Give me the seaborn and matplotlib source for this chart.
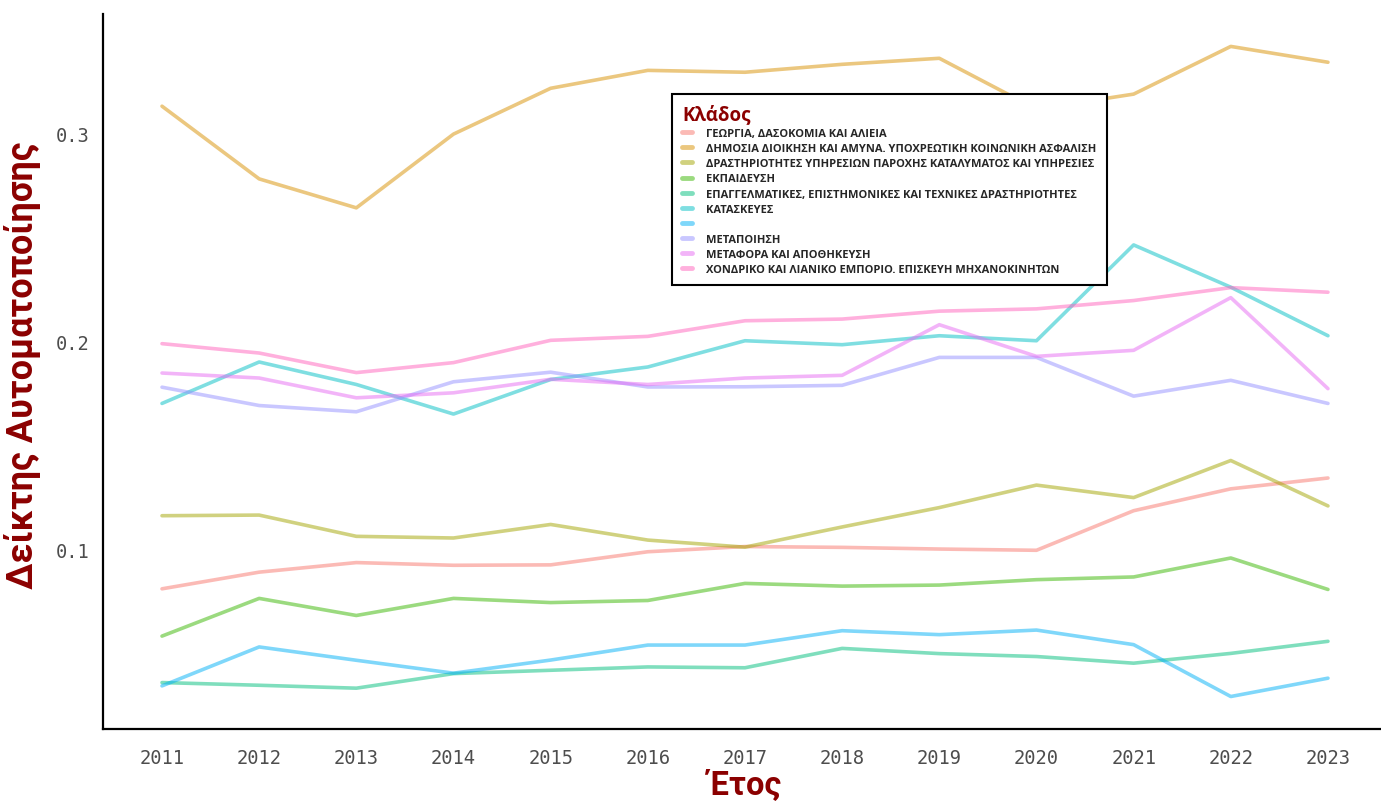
import numpy as np
import pandas as pd
import seaborn as sns
import matplotlib
matplotlib.use("Agg")
import matplotlib.pyplot as plt

years = list(range(2011, 2024))

sectors = [
    "ΓΕΩΡΓΙΑ, ΔΑΣΟΚΟΜΙΑ ΚΑΙ ΑΛΙΕΙΑ",
    "ΔΗΜΟΣΙΑ ΔΙΟΙΚΗΣΗ ΚΑΙ ΑΜΥΝΑ. ΥΠΟΧΡΕΩΤΙΚΗ ΚΟΙΝΩΝΙΚΗ ΑΣΦΑΛΙΣΗ",
    "ΔΡΑΣΤΗΡΙΟΤΗΤΕΣ ΥΠΗΡΕΣΙΩΝ ΠΑΡΟΧΗΣ ΚΑΤΑΛΥΜΑΤΟΣ ΚΑΙ ΥΠΗΡΕΣΙΕΣ",
    "ΕΚΠΑΙΔΕΥΣΗ",
    "ΕΠΑΓΓΕΛΜΑΤΙΚΕΣ, ΕΠΙΣΤΗΜΟΝΙΚΕΣ ΚΑΙ ΤΕΧΝΙΚΕΣ ΔΡΑΣΤΗΡΙΟΤΗΤΕΣ",
    "ΚΑΤΑΣΚΕΥΕΣ",
    " ",
    "ΜΕΤΑΠΟΙΗΣΗ",
    "ΜΕΤΑΦΟΡΑ ΚΑΙ ΑΠΟΘΗΚΕΥΣΗ",
    "ΧΟΝΔΡΙΚΟ ΚΑΙ ΛΙΑΝΙΚΟ ΕΜΠΟΡΙΟ. ΕΠΙΣΚΕΥΗ ΜΗΧΑΝΟΚΙΝΗΤΩΝ",
]

# values, one list per sector
georgia = [0.0812, 0.0892, 0.0938, 0.0925, 0.0927, 0.0990, 0.1015, 0.1011, 0.1003, 0.0997, 0.1187, 0.1292, 0.1344]
dimosia = [0.3129, 0.2780, 0.2641, 0.2995, 0.3215, 0.3301, 0.3292, 0.3330, 0.3359, 0.3115, 0.3187, 0.3416, 0.3340]
katalyma = [0.1163, 0.1166, 0.1064, 0.1056, 0.1121, 0.1046, 0.1012, 0.1109, 0.1202, 0.1310, 0.1250, 0.1428, 0.1210]
ekpaideusi = [0.0585, 0.0766, 0.0684, 0.0766, 0.0746, 0.0756, 0.0838, 0.0825, 0.0830, 0.0856, 0.0869, 0.0960, 0.0809]
epaggelm = [0.0362, 0.0349, 0.0335, 0.0405, 0.0421, 0.0437, 0.0433, 0.0526, 0.0501, 0.0487, 0.0455, 0.0502, 0.0560]
kataskeues = [0.1702, 0.1901, 0.1793, 0.1651, 0.1817, 0.1877, 0.2003, 0.1984, 0.2027, 0.2003, 0.2463, 0.2260, 0.2027]
unnamed = [0.0346, 0.0533, 0.0469, 0.0407, 0.0470, 0.0542, 0.0542, 0.0611, 0.0592, 0.0614, 0.0544, 0.0295, 0.0383]
metapoiisi = [0.1780, 0.1692, 0.1662, 0.1806, 0.1852, 0.1781, 0.1782, 0.1789, 0.1923, 0.1923, 0.1737, 0.1813, 0.1702]
metafora = [0.1848, 0.1824, 0.1729, 0.1753, 0.1818, 0.1793, 0.1824, 0.1837, 0.2080, 0.1928, 0.1957, 0.2210, 0.1773]
xondriko = [0.1989, 0.1944, 0.1850, 0.1898, 0.2005, 0.2024, 0.2099, 0.2107, 0.2145, 0.2156, 0.2196, 0.2258, 0.2236]

series = [georgia, dimosia, katalyma, ekpaideusi, epaggelm, kataskeues,
          unnamed, metapoiisi, metafora, xondriko]

palette = ["#F8766D", "#D89000", "#A3A500", "#39B600", "#00BF7D",
           "#00BFC4", "#00B0F6", "#9590FF", "#E76BF3", "#FF62BC"]

rows = []
for name, vals in zip(sectors, series):
    for y, v in zip(years, vals):
        rows.append((y, v, name))
df = pd.DataFrame(rows, columns=["year", "value", "sector"])

sns.set_style("white")
plt.rcParams['font.family'] = ['Roboto', 'DejaVu Sans']

fig = plt.figure(figsize=(13.81, 8.03), dpi=100)
ax = fig.add_axes([0.0746, 0.0909, 0.9297, 0.890])

sns.lineplot(data=df, x="year", y="value", hue="sector", hue_order=sectors,
             palette=palette, alpha=0.5, linewidth=2.6, ax=ax, legend=True)

ax.set_xlim(2010.393, 2023.607)
ax.set_ylim(0.0139, 0.357)
ax.set_xticks(years)
ax.set_yticks([0.1, 0.2, 0.3])
ax.set_yticklabels(["0.1", "0.2", "0.3"])

for s in ["top", "right"]:
    ax.spines[s].set_visible(False)
for s in ["left", "bottom"]:
    ax.spines[s].set_color("black")
    ax.spines[s].set_linewidth(1.6)

ax.tick_params(axis="both", length=6, width=1.3, color="#333333",
               labelcolor="#4d4d4d", labelsize=13.5, direction="out")
ax.tick_params(axis="x", pad=8)
ax.tick_params(axis="y", pad=4)
for lab in ax.get_xticklabels() + ax.get_yticklabels():
    lab.set_family("DejaVu Sans Mono")

ax.set_xlabel("Έτος", fontsize=23.5, fontweight="bold", color="#8B0000")
ax.xaxis.set_label_coords(0.5, -0.056)
ax.set_ylabel("Δείκτης Αυτοματοποίησης", fontsize=26, fontweight="bold",
              color="#8B0000")
ax.yaxis.set_label_coords(-0.048, 0.511)

handles, labels = ax.get_legend_handles_labels()
leg = ax.legend(handles, labels, title="Κλάδος", loc="upper left",
                bbox_to_anchor=(672 / 1381, 1 - 95 / 803),
                bbox_transform=fig.transFigure, borderaxespad=0,
                prop={"family": "Open Sans", "size": 8, "weight": "bold"},
                title_fontproperties={"family": "Open Sans", "size": 13.5, "weight": "bold"},
                frameon=True, fancybox=False, edgecolor="black", framealpha=1,
                handlelength=0.9, handletextpad=1.3, labelspacing=0.37,
                borderpad=0.9, alignment="left")
leg.get_frame().set_linewidth(1.5)
leg.get_title().set_color("#8B0000")
for h in leg.get_lines():
    h.set_linewidth(3.5)
    h.set_alpha(0.5)

fig.savefig("out.png", dpi=100)
